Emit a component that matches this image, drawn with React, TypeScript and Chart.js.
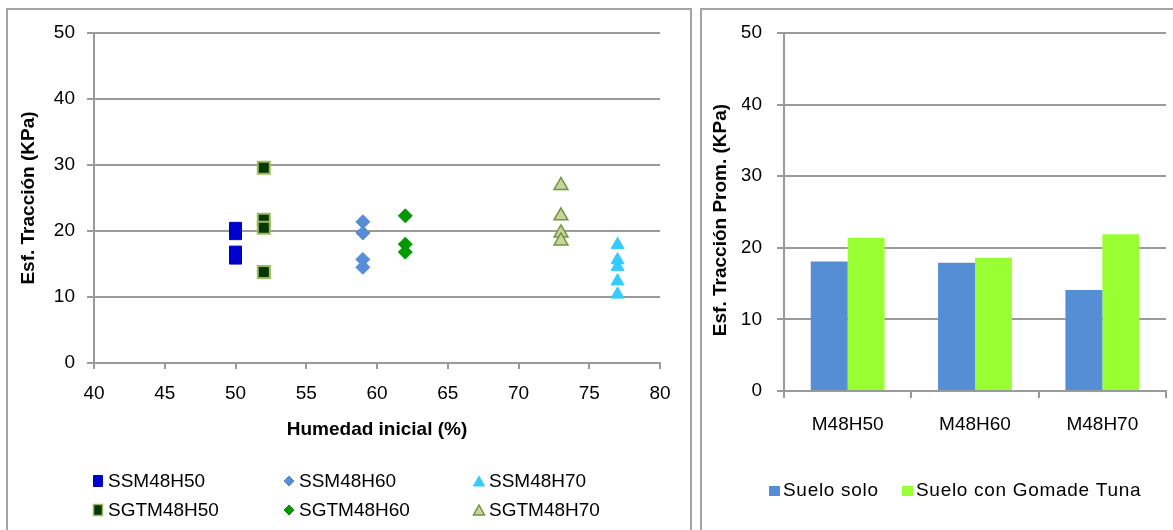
import React, { useEffect, useRef } from "react";
import { Chart, registerables } from "chart.js";

Chart.register(...registerables);

const FONT = "'Liberation Sans', Arial, Helvetica, sans-serif";
const GRID = "#9a9a9a";

// ---- Scatter: tensile strength vs. initial moisture ----
const scatterNames = ["SSM48H50", "SSM48H60", "SSM48H70", "SGTM48H50", "SGTM48H60", "SGTM48H70"];
const humedadSerie = [50, 59, 77, 52, 62, 73];
const ssm48h50 = [20.4, 19.6, 16.8, 15.9];
const ssm48h60 = [21.4, 19.7, 15.7, 14.5];
const ssm48h70 = [17.9, 15.6, 14.6, 12.4, 10.4];
const sgtm48h50 = [29.6, 21.7, 20.5, 13.8];
const sgtm48h60 = [22.3, 18.0, 16.8];
const sgtm48h70 = [26.9, 22.3, 19.7, 18.5];
const scatterValues = [ssm48h50, ssm48h60, ssm48h70, sgtm48h50, sgtm48h60, sgtm48h70];

// ---- Bars: mean tensile strength per mix ----
const muestras = ["M48H50", "M48H60", "M48H70"];
const barNames = ["Suelo solo", "Suelo con Gomade Tuna"];
const sueloSolo = [18.1, 17.9, 14.1];
const sueloGoma = [21.4, 18.6, 21.9];

type Marker = {
  style: "rect" | "rectRot" | "triangle";
  fill: string;
  stroke: string;
  radius: number;
  borderWidth: number;
};

const scatterMarkers: Marker[] = [
  { style: "rect", fill: "#0000cc", stroke: "#0000cc", radius: 8.5, borderWidth: 1 },
  { style: "rectRot", fill: "#558ed5", stroke: "#558ed5", radius: 7, borderWidth: 1 },
  { style: "triangle", fill: "#33ccff", stroke: "#33ccff", radius: 7.5, borderWidth: 1 },
  { style: "rect", fill: "#063806", stroke: "#9bbb59", radius: 8.5, borderWidth: 2 },
  { style: "rectRot", fill: "#009900", stroke: "#009900", radius: 7, borderWidth: 1 },
  { style: "triangle", fill: "#c3d69b", stroke: "#77933c", radius: 8, borderWidth: 1.5 },
];

const barColors = ["#558ed5", "#99ff33"];

function drawShape(ctx: CanvasRenderingContext2D, m: Marker, x: number, y: number, w: number, h: number) {
  ctx.save();
  ctx.beginPath();
  if (m.style === "rect") {
    ctx.rect(x - w / 2, y - h / 2, w, h);
  } else if (m.style === "rectRot") {
    ctx.moveTo(x, y - h / 2);
    ctx.lineTo(x + w / 2, y);
    ctx.lineTo(x, y + h / 2);
    ctx.lineTo(x - w / 2, y);
    ctx.closePath();
  } else {
    ctx.moveTo(x, y - h / 2);
    ctx.lineTo(x + w / 2, y + h / 2);
    ctx.lineTo(x - w / 2, y + h / 2);
    ctx.closePath();
  }
  ctx.fillStyle = m.fill;
  ctx.fill();
  ctx.strokeStyle = m.stroke;
  ctx.lineWidth = Math.min(m.borderWidth, 1.5);
  ctx.stroke();
  ctx.restore();
}

// Legend laid out as a fixed grid of (marker, label) cells
const scatterLegendCols = [98, 289, 479];
const scatterLegendRows = [482, 511];

const scatterLegend = {
  id: "scatterLegend",
  afterDraw(chart: any) {
    const ctx: CanvasRenderingContext2D = chart.ctx;
    ctx.save();
    ctx.font = `19px ${FONT}`;
    ctx.fillStyle = "#000";
    ctx.textBaseline = "middle";
    ctx.textAlign = "left";
    scatterNames.forEach((name, i) => {
      const cx = scatterLegendCols[i % 3];
      const cy = scatterLegendRows[Math.floor(i / 3)];
      const m = scatterMarkers[i];
      const w = m.style === "rect" ? 9 : m.style === "rectRot" ? 10 : 11;
      const h = m.style === "rect" ? 11 : 10;
      drawShape(ctx, m, cx, cy - 1, w, h);
      ctx.fillText(name, cx + 10, cy);
    });
    ctx.restore();
  },
};

const barLegendMarkX = [68, 201];
const barLegendY = 491;
const barTitle = "Esf. Tracción Prom. (KPa)";

const barDecor = {
  id: "barDecor",
  afterDraw(chart: any) {
    const ctx: any = chart.ctx;
    ctx.save();
    // rotated value-axis title
    ctx.save();
    ctx.translate(20, 220);
    ctx.rotate(-Math.PI / 2);
    ctx.font = `bold 19px ${FONT}`;
    ctx.fillStyle = "#000";
    ctx.textAlign = "center";
    ctx.textBaseline = "middle";
    ctx.fillText(barTitle, 0, 0);
    ctx.restore();
    // legend
    ctx.font = `19px ${FONT}`;
    ctx.textBaseline = "middle";
    ctx.textAlign = "left";
    if ("letterSpacing" in ctx) ctx.letterSpacing = "0.7px";
    barNames.forEach((name, i) => {
      const x = barLegendMarkX[i];
      ctx.fillStyle = barColors[i];
      ctx.fillRect(x, barLegendY - 5, 11, 10);
      ctx.fillStyle = "#000";
      ctx.fillText(name, x + 14, barLegendY);
    });
    ctx.restore();
  },
};

const tickFont = { family: FONT, size: 19 };
const titleFont = { family: FONT, size: 19, weight: "bold" as const };

function ScatterChart() {
  const ref = useRef<HTMLCanvasElement>(null);
  useEffect(() => {
    if (!ref.current) return;
    const chart = new Chart(ref.current, {
      type: "scatter",
      data: {
        datasets: scatterNames.map((name, i) => ({
          label: name,
          data: scatterValues[i].map((v) => ({ x: humedadSerie[i], y: v })),
          pointStyle: scatterMarkers[i].style,
          pointRadius: scatterMarkers[i].radius,
          pointBackgroundColor: scatterMarkers[i].fill,
          pointBorderColor: scatterMarkers[i].stroke,
          pointBorderWidth: scatterMarkers[i].borderWidth,
        })),
      },
      options: {
        animation: false,
        responsive: false,
        devicePixelRatio: 1,
        layout: { padding: { top: 33, right: 32, bottom: 89, left: 0 } },
        plugins: { legend: { display: false }, tooltip: { enabled: false } },
        scales: {
          x: {
            type: "linear",
            min: 40,
            max: 80,
            ticks: { stepSize: 5, color: "#000", font: tickFont, padding: 13 },
            grid: { drawOnChartArea: false, drawTicks: true, tickLength: 6, color: GRID, lineWidth: 2 },
            border: { color: GRID, width: 2 },
            title: {
              display: true,
              text: "Humedad inicial (%)",
              color: "#000",
              font: titleFont,
              padding: { top: 0, bottom: 0 },
            },
            afterFit: (s: any) => {
              s.height = 78;
            },
          },
          y: {
            min: 0,
            max: 50,
            ticks: { stepSize: 10, color: "#000", font: tickFont, padding: 12 },
            grid: { color: GRID, lineWidth: 2, tickLength: 7 },
            border: { color: GRID, width: 2 },
            title: {
              display: true,
              text: "Esf. Tracción (KPa)",
              color: "#000",
              font: titleFont,
              padding: { top: 17.6, bottom: 0 },
            },
            afterFit: (s: any) => {
              s.width = 94;
            },
          },
        },
      } as any,
      plugins: [scatterLegend],
    });
    return () => chart.destroy();
  }, []);
  return (
    <canvas
      ref={ref}
      width={692}
      height={530}
      style={{ position: "absolute", left: 0, top: 0, width: 692, height: 530 }}
    />
  );
}

function BarChart() {
  const ref = useRef<HTMLCanvasElement>(null);
  useEffect(() => {
    if (!ref.current) return;
    const chart = new Chart(ref.current, {
      type: "bar",
      data: {
        labels: muestras,
        datasets: [
          { label: barNames[0], data: sueloSolo, backgroundColor: barColors[0], borderWidth: 0 },
          { label: barNames[1], data: sueloGoma, backgroundColor: barColors[1], borderWidth: 0 },
        ],
      },
      options: {
        animation: false,
        responsive: false,
        devicePixelRatio: 1,
        categoryPercentage: 0.58,
        barPercentage: 1,
        layout: { padding: { top: 33, right: 7, bottom: 79, left: 41 } },
        plugins: { legend: { display: false }, tooltip: { enabled: false } },
        scales: {
          x: {
            ticks: { color: "#000", font: tickFont, padding: 15 },
            grid: { offset: true, drawOnChartArea: false, drawTicks: true, tickLength: 7, color: GRID, lineWidth: 2 },
            border: { color: GRID, width: 2 },
            afterFit: (s: any) => {
              s.height = 60;
            },
          },
          y: {
            min: 0,
            max: 50,
            ticks: { stepSize: 10, color: "#000", font: tickFont, padding: 15 },
            grid: { color: GRID, lineWidth: 2, tickLength: 7 },
            border: { color: GRID, width: 2 },
            afterFit: (s: any) => {
              s.width = 42;
            },
          },
        },
      } as any,
      plugins: [barDecor],
    });
    return () => chart.destroy();
  }, []);
  return (
    <canvas
      ref={ref}
      width={472}
      height={530}
      style={{ position: "absolute", left: 701, top: 0, width: 472, height: 530 }}
    />
  );
}

export default function App() {
  return (
    <div
      style={{
        position: "fixed",
        left: 0,
        top: 0,
        width: 1173,
        height: 530,
        overflow: "hidden",
        background: "#fff",
      }}
    >
      <div
        style={{
          position: "absolute",
          left: 6,
          top: 8,
          width: 686,
          height: 560,
          border: "2px solid #a3a3a3",
          boxSizing: "border-box",
        }}
      />
      <div
        style={{
          position: "absolute",
          left: 700,
          top: 8,
          width: 520,
          height: 560,
          border: "2px solid #a3a3a3",
          boxSizing: "border-box",
        }}
      />
      <ScatterChart />
      <BarChart />
    </div>
  );
}
